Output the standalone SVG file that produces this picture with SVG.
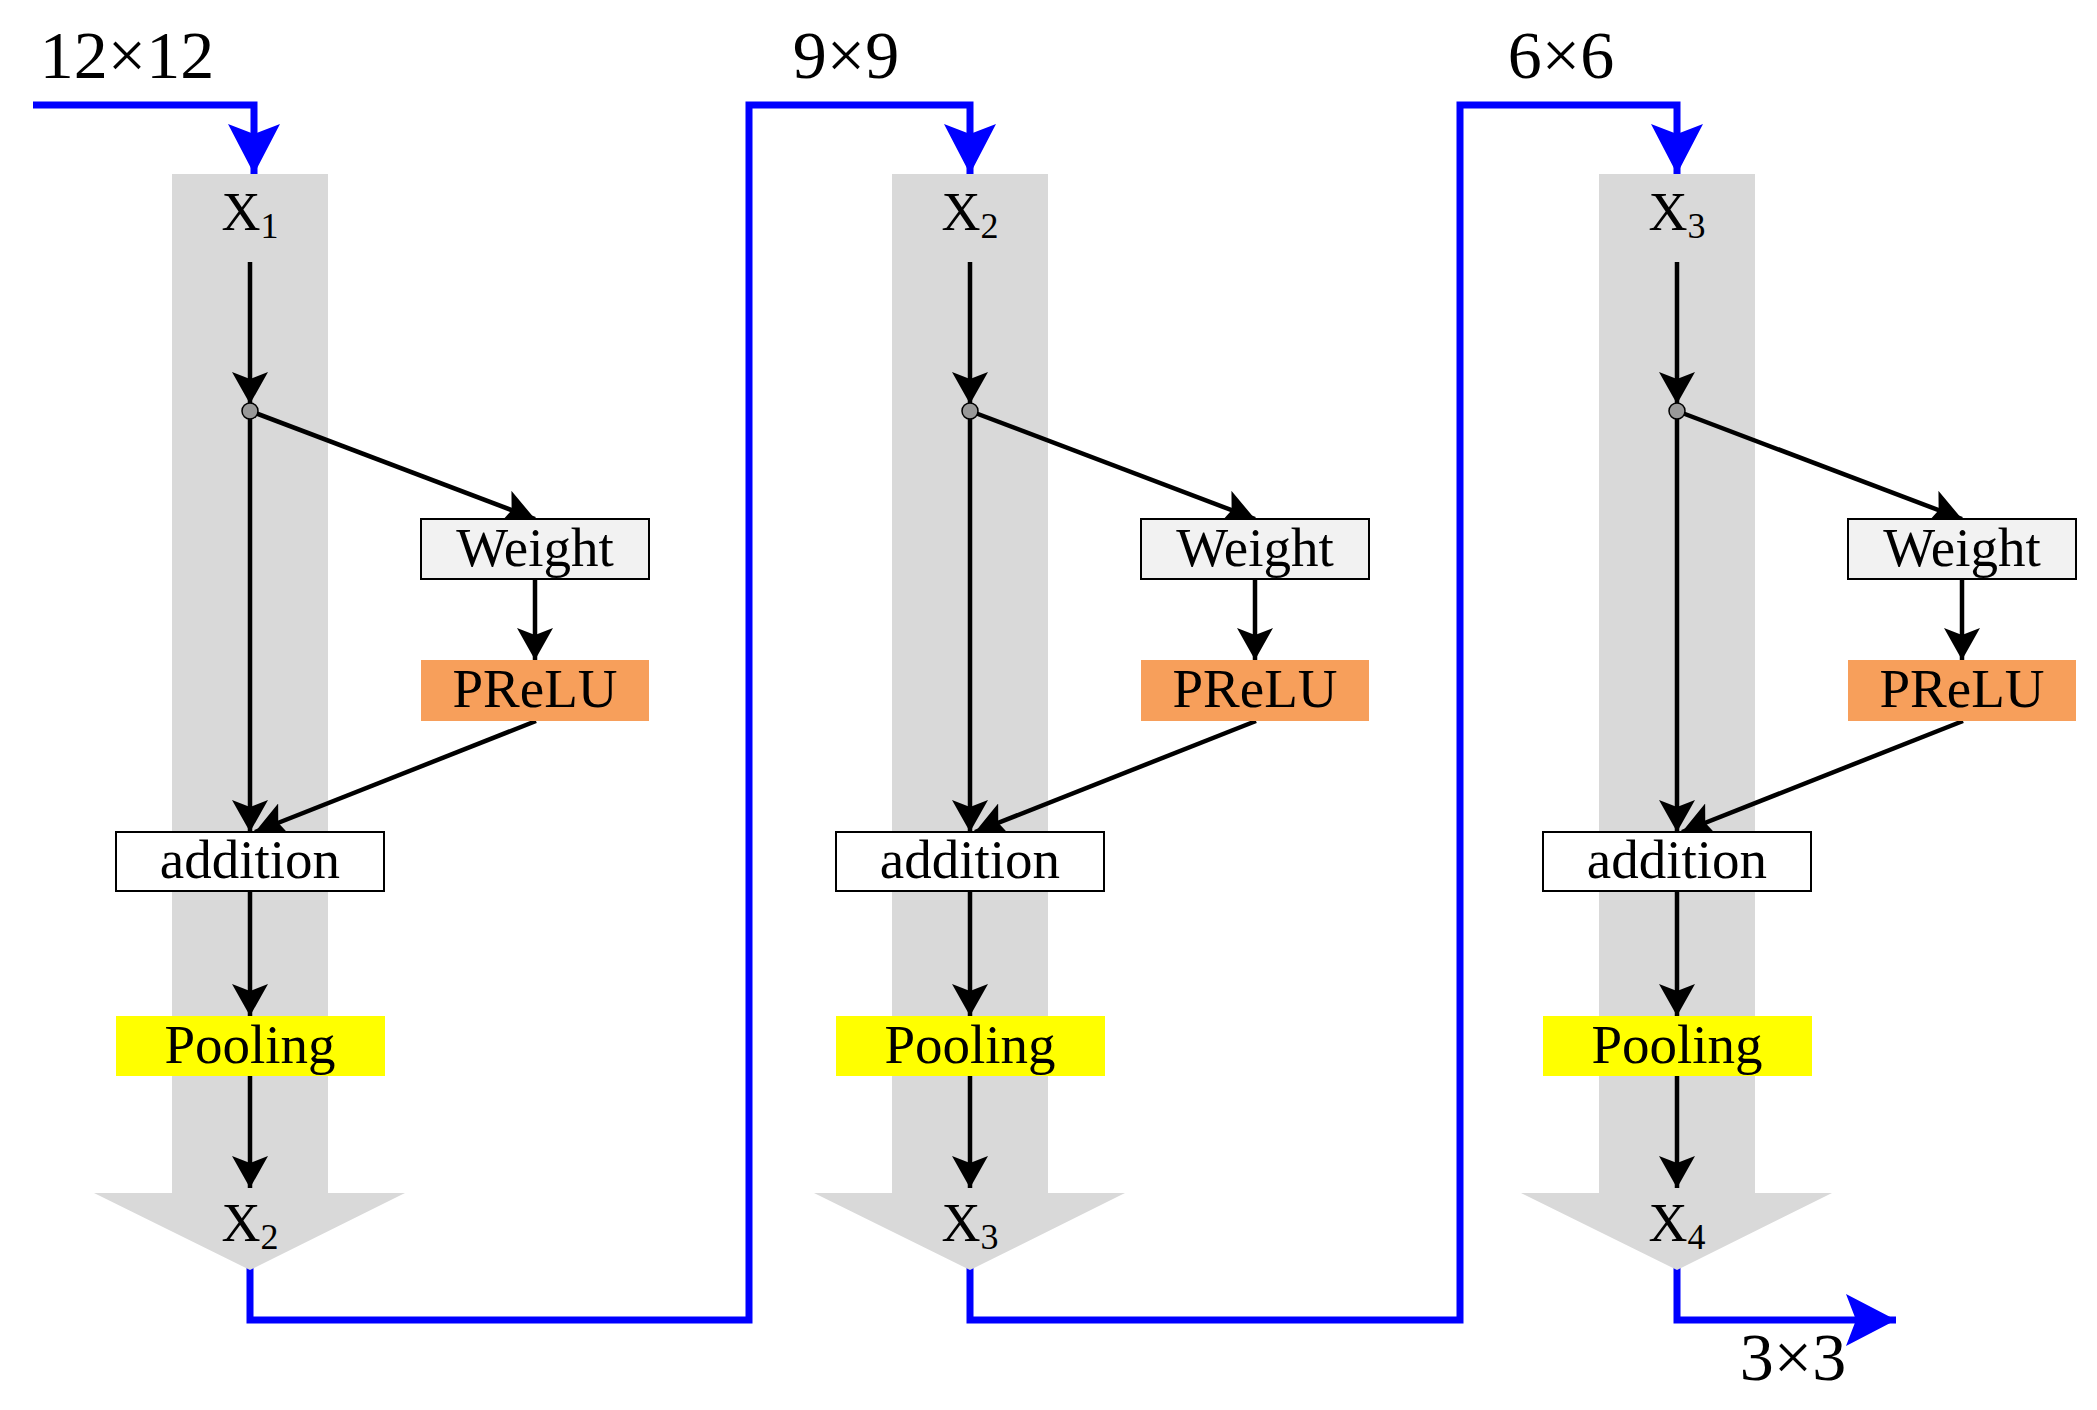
<svg xmlns="http://www.w3.org/2000/svg" width="2097" height="1410" viewBox="0 0 2097 1410">
<style>
.t{font-family:"Liberation Serif","Times New Roman",serif;fill:#000;text-anchor:middle}
.k{stroke:#000;stroke-width:4.5;fill:none}
.b{stroke:#0000FF;stroke-width:7;fill:none;stroke-linejoin:miter}
.col{fill:#D9D9D9}
</style>
<defs>
<marker id="ak" markerUnits="userSpaceOnUse" viewBox="0 0 32 36" refX="32" refY="18" markerWidth="32" markerHeight="36" orient="auto">
<path d="M0,0 L32,18 L0,36 L7,18 z" fill="#000"/>
</marker>
<marker id="ab" markerUnits="userSpaceOnUse" viewBox="0 0 50 52" refX="50" refY="26" markerWidth="50" markerHeight="52" orient="auto">
<path d="M0,0 L50,26 L0,52 L10,26 z" fill="#0000FF"/>
</marker>
<g id="block">
<path class="col" d="M172,174 H328 V1193 H405 L250,1270 L94,1193 H172 Z"/>
<line class="k" x1="250" y1="262" x2="250" y2="404" marker-end="url(#ak)"/>
<line class="k" x1="250" y1="411" x2="250" y2="832" marker-end="url(#ak)"/>
<line class="k" x1="250" y1="411" x2="535" y2="519" marker-end="url(#ak)"/>
<line class="k" x1="535" y1="579" x2="535" y2="660" marker-end="url(#ak)"/>
<line class="k" x1="536" y1="721" x2="255" y2="832" marker-end="url(#ak)"/>
<line class="k" x1="250" y1="891" x2="250" y2="1016" marker-end="url(#ak)"/>
<line class="k" x1="250" y1="1076" x2="250" y2="1188" marker-end="url(#ak)"/>
<circle cx="250" cy="411" r="8" fill="#999" stroke="#000" stroke-width="1.5"/>
<rect x="421" y="519" width="228" height="60" fill="#F2F2F2" stroke="#000" stroke-width="2"/>
<text class="t" x="535" y="566" font-size="55">Weight</text>
<rect x="421" y="660" width="228" height="61" fill="#F79F5B"/>
<text class="t" x="535" y="707" font-size="55">PReLU</text>
<rect x="116" y="832" width="268" height="59" fill="#fff" stroke="#000" stroke-width="2"/>
<text class="t" x="250" y="878" font-size="55">addition</text>
<rect x="116" y="1016" width="269" height="60" fill="#FFFF00"/>
<text class="t" x="250" y="1063" font-size="55">Pooling</text>
</g>
</defs>
<g id="connectors">
<polyline class="b" points="33,105 254,105 254,174" marker-end="url(#ab)"/>
<polyline class="b" points="250,1268 250,1320 749,1320 749,105 970,105 970,174" marker-end="url(#ab)"/>
<polyline class="b" points="970,1268 970,1320 1460,1320 1460,105 1677,105 1677,174" marker-end="url(#ab)"/>
<polyline class="b" points="1677,1268 1677,1320 1896,1320" marker-end="url(#ab)"/>
</g>
<g id="stage1">
<use href="#block"/>
<text class="t" x="250" y="230" font-size="54">X<tspan font-size="36" dy="8">1</tspan></text>
<text class="t" x="250" y="1241" font-size="54">X<tspan font-size="36" dy="8">2</tspan></text>
</g>
<g id="stage2">
<use href="#block" transform="translate(720,0)"/>
<text class="t" x="970" y="230" font-size="54">X<tspan font-size="36" dy="8">2</tspan></text>
<text class="t" x="970" y="1241" font-size="54">X<tspan font-size="36" dy="8">3</tspan></text>
</g>
<g id="stage3">
<use href="#block" transform="translate(1427,0)"/>
<text class="t" x="1677" y="230" font-size="54">X<tspan font-size="36" dy="8">3</tspan></text>
<text class="t" x="1677" y="1241" font-size="54">X<tspan font-size="36" dy="8">4</tspan></text>
</g>
<g id="labels">
<text class="t" x="127" y="78" font-size="68">12×12</text>
<text class="t" x="846" y="78" font-size="68">9×9</text>
<text class="t" x="1561" y="78" font-size="68">6×6</text>
<text class="t" x="1793" y="1380" font-size="68">3×3</text>
</g>
</svg>
